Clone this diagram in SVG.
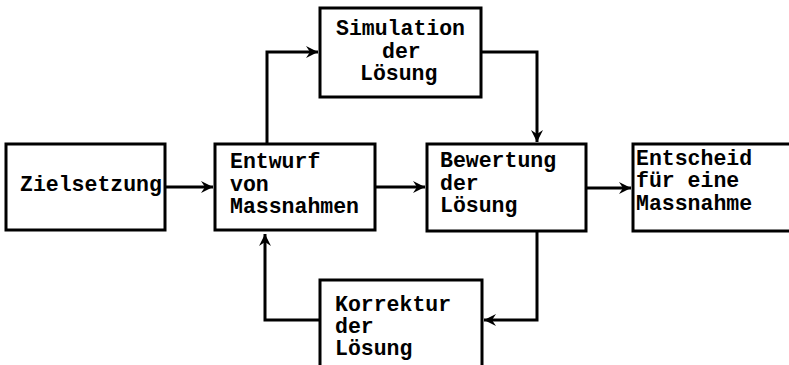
<svg xmlns="http://www.w3.org/2000/svg" width="789" height="365" viewBox="0 0 789 365">
<defs>
<marker id="ah" markerWidth="14" markerHeight="12" refX="12" refY="6" orient="auto" markerUnits="userSpaceOnUse">
<path d="M0,0 L12,6 L0,12 L4,6 Z" fill="#000"/>
</marker>
</defs>
<style>
.box{fill:#fff;stroke:#000;stroke-width:3}
.t{font-family:"Liberation Mono","Courier New",monospace;font-weight:bold;font-size:21.5px;fill:#000}
.c{fill:none;stroke:#000;stroke-width:3;marker-end:url(#ah)}
</style>
<rect width="789" height="365" fill="#fff"/>
<g id="connectors">
<path class="c" d="M165,187 H213"/>
<path class="c" d="M375,187 H425"/>
<path class="c" d="M586,188 H631"/>
<path class="c" d="M267,144 V52 H318"/>
<path class="c" d="M481,52 H537 V142"/>
<path class="c" d="M537,231 V320 H484"/>
<path class="c" d="M320,320 H265 V234"/>
</g>
<g id="zielsetzung">
<rect class="box" x="6" y="144" width="159" height="86"/>
<text class="t" x="20" y="191">Zielsetzung</text>
</g>
<g id="entwurf">
<rect class="box" x="215" y="144" width="160" height="86"/>
<text class="t" x="230" y="168">Entwurf</text>
<text class="t" x="230" y="191">von</text>
<text class="t" x="230" y="213">Massnahmen</text>
</g>
<g id="bewertung">
<rect class="box" x="427" y="144" width="159" height="87"/>
<text class="t" x="440" y="167">Bewertung</text>
<text class="t" x="440" y="190">der</text>
<text class="t" x="440" y="212">Lösung</text>
</g>
<g id="entscheid">
<rect class="box" x="633" y="144" width="170" height="87"/>
<text class="t" x="636" y="165">Entscheid</text>
<text class="t" x="636" y="187">für eine</text>
<text class="t" x="636" y="210">Massnahme</text>
</g>
<g id="simulation">
<rect class="box" x="320" y="8" width="161" height="89"/>
<text class="t" x="336" y="35">Simulation</text>
<text class="t" x="382" y="58">der</text>
<text class="t" x="360" y="80">Lösung</text>
</g>
<g id="korrektur">
<rect class="box" x="320" y="280" width="162" height="100"/>
<text class="t" x="335" y="311">Korrektur</text>
<text class="t" x="335" y="333">der</text>
<text class="t" x="335" y="355">Lösung</text>
</g>
</svg>
